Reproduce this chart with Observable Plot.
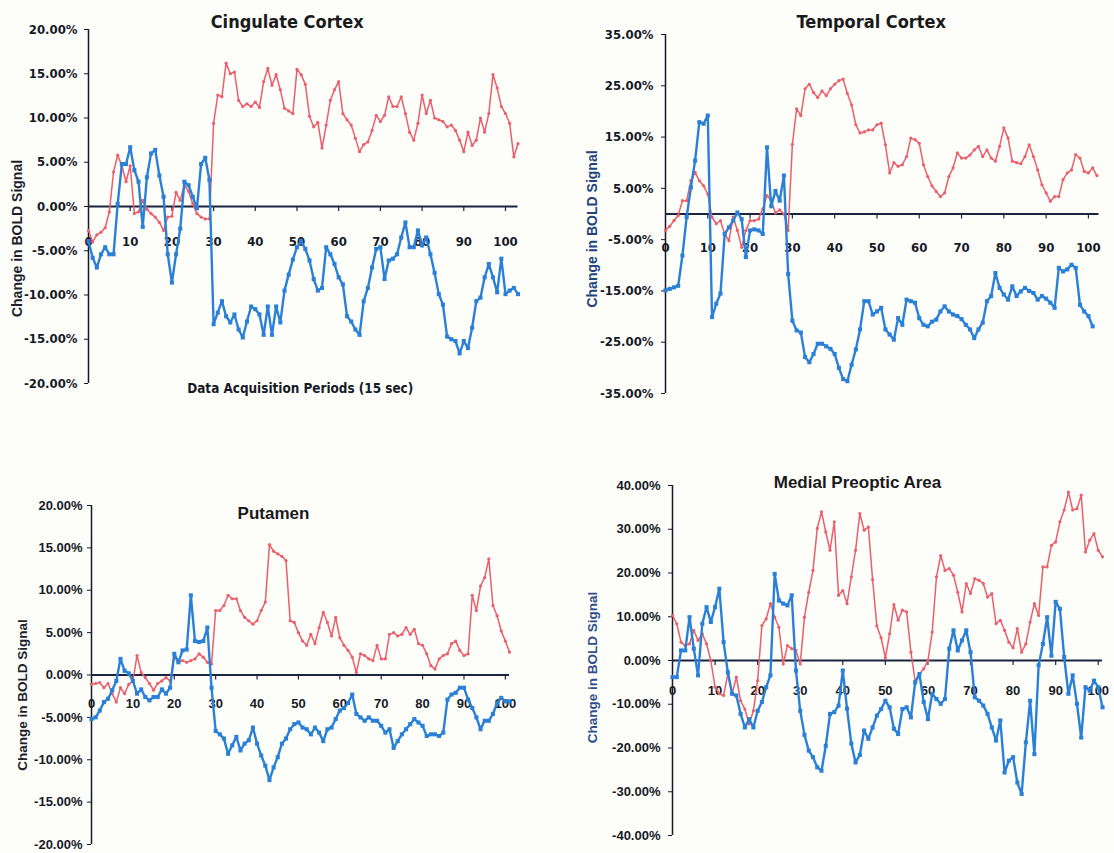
<!DOCTYPE html>
<html><head><meta charset="utf-8">
<script src="https://cdn.jsdelivr.net/npm/d3@7"></script>
<script src="https://cdn.jsdelivr.net/npm/@observablehq/plot@0.6"></script>
<style>
body{margin:0;background:#fdfdfa;}
#root{position:relative;width:1114px;height:853px;overflow:hidden;background:#fdfdfa;}
</style></head><body><div id="root"></div>
<script>
// ---------- data (percent change in BOLD signal, one value per 15-s period) ----------
const xTicks = [0,10,20,30,40,50,60,70,80,90,100];
const ticksCingulate = [-20,-15,-10,-5,0,5,10,15,20];
const ticksTemporal = [-35,-25,-15,-5,5,15,25,35];
const ticksPutamen = [-20,-15,-10,-5,0,5,10,15,20];
const ticksMpa = [-40,-30,-20,-10,0,10,20,30,40];

const cingulateRed = [-2.7,-4.0,-3.2,-2.9,-2.4,-0.6,3.9,5.8,4.6,2.8,
 4.6,-0.8,-0.6,0.7,-0.3,-0.8,-1.2,-1.8,-2.7,-1.2,
 -1.1,1.6,0.7,2.4,1.7,0.3,-0.8,-1.2,-1.4,-1.4,
 9.4,12.6,12.4,16.2,15.0,15.2,12.0,11.3,11.6,11.3,
 11.8,11.2,14.1,15.6,13.7,14.9,13.2,11.1,10.8,10.5,
 15.5,14.9,13.8,10.2,9.0,9.5,6.6,9.2,12.0,13.2,
 14.1,10.5,9.8,9.2,7.7,6.2,7.0,7.3,8.6,10.3,
 9.6,10.3,12.4,11.3,11.3,12.4,10.5,8.4,7.5,9.4,
 12.6,10.5,12.0,10.0,9.8,9.6,9.0,9.2,8.6,7.5,
 6.2,8.4,6.9,7.5,10.0,8.4,10.5,14.9,13.4,11.3,
 10.5,9.4,5.6,7.1];
const cingulateBlue = [-3.9,-5.8,-6.9,-5.4,-4.6,-5.4,-5.4,0.3,4.8,4.8,
 6.7,4.1,2.8,-2.3,3.3,6.0,6.4,3.5,1.1,-5.4,
 -8.6,-5.4,-2.5,2.8,2.4,1.1,-0.2,4.8,5.5,3.0,
 -13.3,-12.0,-10.7,-12.4,-13.1,-12.2,-13.9,-14.8,-13.0,-11.3,
 -11.6,-12.2,-14.5,-11.3,-14.5,-11.3,-13.1,-9.5,-7.7,-6.0,
 -4.6,-3.9,-4.8,-6.1,-8.2,-9.5,-9.2,-4.6,-5.4,-6.5,
 -8.0,-8.8,-12.4,-13.0,-13.9,-14.5,-10.7,-9.2,-6.9,-4.8,
 -4.6,-8.2,-6.1,-5.9,-5.4,-3.5,-1.8,-4.6,-4.6,-2.7,
 -4.4,-3.5,-5.4,-7.5,-9.9,-11.1,-14.7,-15.0,-15.2,-16.6,
 -15.2,-16.0,-13.7,-10.7,-10.3,-8.0,-6.5,-8.0,-9.7,-5.9,
 -9.9,-9.5,-9.2,-9.9];

const temporalRed = [-3.2,-2.4,-1.3,-0.3,2.6,2.6,6.5,8.1,6.5,5.5,
 3.9,-0.6,-1.9,-1.3,-3.9,-5.2,-0.6,-3.2,-6.5,-3.2,
 -1.3,-1.3,-1.0,1.0,3.6,2.6,0.2,0.8,0.0,-3.2,
 13.6,20.5,19.2,24.4,25.3,23.7,22.7,24.0,23.1,24.4,
 25.3,26.0,26.3,23.5,21.3,17.4,15.8,16.0,16.4,16.4,
 17.4,17.7,13.5,8.0,10.0,9.3,9.6,11.2,14.8,14.5,
 13.8,9.6,7.3,5.5,4.4,3.4,4.1,7.3,9.0,11.9,
 10.9,10.9,11.5,12.5,13.2,11.2,12.5,10.9,10.3,13.2,
 16.8,14.8,10.3,10.0,9.8,11.2,13.5,11.2,8.6,5.7,
 4.1,2.5,3.4,3.4,6.7,8.0,8.6,11.6,10.9,8.3,
 8.0,9.0,7.5];
const temporalBlue = [-14.9,-14.6,-14.3,-14.0,-8.1,-0.6,5.2,10.4,17.9,17.6,
 19.2,-20.1,-17.5,-15.5,-3.9,-2.6,-1.3,0.3,-1.0,-8.4,
 -3.2,-3.0,-3.2,-3.9,13.0,1.5,4.5,2.6,7.5,-11.7,
 -20.8,-22.7,-23.1,-27.9,-28.9,-27.3,-25.3,-25.3,-25.8,-26.3,
 -27.3,-30.0,-32.2,-32.6,-29.4,-26.4,-22.5,-17.0,-17.0,-19.6,
 -19.0,-18.3,-22.5,-23.5,-24.5,-20.3,-21.6,-16.7,-17.0,-17.3,
 -20.3,-21.6,-21.9,-21.0,-20.6,-19.0,-18.0,-19.0,-19.6,-19.9,
 -20.5,-21.6,-22.5,-24.2,-22.5,-21.2,-17.0,-16.0,-11.5,-14.4,
 -15.7,-16.7,-14.1,-16.0,-15.1,-14.4,-15.0,-15.4,-16.7,-16.0,
 -16.5,-17.3,-18.3,-10.5,-11.2,-10.8,-9.9,-10.5,-17.7,-19.0,
 -19.9,-21.9];

const putamenRed = [-1.1,-1.0,-0.9,-1.5,-1.0,-2.2,-3.2,-1.5,-2.2,-1.1,
 -0.7,2.3,0.3,-0.3,-1.0,-1.8,-1.0,-0.7,-0.3,-0.7,
 2.1,1.5,1.7,1.5,1.7,1.9,2.5,2.1,1.5,1.3,
 7.6,7.6,8.2,9.4,9.0,9.0,7.6,6.8,6.4,6.0,
 6.4,7.6,8.6,15.4,14.6,14.3,14.0,13.5,6.4,6.2,
 5.0,4.0,3.5,4.8,3.7,5.6,7.4,6.2,4.6,6.8,
 4.4,3.5,2.9,2.1,0.3,2.5,2.3,1.9,1.7,3.5,
 1.9,1.9,4.8,5.0,4.6,4.8,5.6,4.8,5.4,3.7,
 3.5,2.5,1.1,0.7,1.9,2.3,2.5,3.7,4.0,2.9,
 2.3,2.5,9.4,7.6,10.5,11.5,13.7,8.2,7.0,5.2,
 4.0,2.7];
const putamenBlue = [-5.2,-5.0,-4.2,-3.2,-2.8,-1.8,-0.7,1.9,0.5,0.2,
 -0.7,-2.2,-1.7,-2.6,-3.0,-2.6,-2.6,-1.7,-2.2,-1.5,
 2.5,1.5,2.9,3.0,9.4,4.0,3.9,4.0,5.6,-1.5,
 -6.6,-7.0,-7.5,-9.3,-8.3,-7.3,-8.9,-8.1,-7.7,-6.2,
 -8.1,-9.5,-10.7,-12.4,-10.9,-9.7,-8.1,-7.5,-6.4,-5.8,
 -5.6,-6.2,-6.4,-7.0,-6.2,-6.8,-7.8,-6.4,-6.2,-5.2,
 -4.2,-3.9,-3.3,-2.3,-4.6,-5.0,-5.4,-5.0,-5.4,-5.4,
 -6.0,-6.8,-6.4,-8.6,-7.8,-7.0,-6.4,-5.8,-5.2,-5.6,
 -6.0,-7.2,-7.0,-7.0,-7.2,-6.8,-2.9,-2.3,-2.1,-1.5,
 -1.5,-2.9,-3.9,-5.0,-6.4,-5.4,-5.4,-4.6,-3.3,-2.7,
 -3.1,-3.1];

const mpaRed = [10.3,8.4,4.2,3.4,3.8,6.9,4.6,6.1,3.8,0.0,
 -6.1,-7.6,-8.0,-3.1,-7.6,-3.8,-9.2,-11.1,-14.5,-11.5,
 -4.6,8.0,9.5,13.0,9.9,7.6,-0.8,3.4,2.7,2.3,
 -0.8,9.9,15.6,20.6,30.2,34.0,29.4,25.2,31.7,14.9,
 16.0,13.0,19.1,25.2,33.6,29.8,30.5,18.5,7.9,5.2,
 0.6,6.1,12.8,9.2,11.5,11.1,1.9,-4.7,-3.1,-1.9,
 0.0,6.5,19.1,24.0,20.6,21.0,19.5,15.6,11.1,17.6,
 15.3,18.7,18.3,17.6,14.5,15.3,8.4,9.2,6.9,4.2,
 2.9,7.3,1.9,3.8,8.8,13.0,10.3,21.4,21.4,26.3,
 27.1,31.7,34.4,38.5,34.4,34.7,37.8,24.8,27.5,29.0,
 25.2,23.7];
const mpaBlue = [-3.8,-3.8,2.3,2.3,9.9,2.7,-3.4,8.4,12.2,8.8,
 12.2,16.4,4.2,-2.7,-7.6,-8.0,-12.2,-15.3,-13.4,-15.3,
 -11.5,-9.5,-6.1,-3.4,19.8,13.7,13.0,12.6,14.9,-2.3,
 -11.5,-17.0,-20.6,-22.1,-24.4,-25.2,-19.5,-12.2,-11.8,-10.3,
 -2.3,-11.0,-19.0,-23.3,-21.6,-16.0,-17.9,-15.3,-12.6,-11.1,
 -9.2,-10.7,-15.6,-16.8,-11.1,-10.7,-13.0,-5.0,-3.1,-9.5,
 -13.4,-7.6,-8.8,-9.9,-8.8,2.7,6.9,2.3,4.6,6.9,
 1.9,-8.4,-9.2,-10.3,-12.2,-15.3,-18.3,-13.7,-25.6,-22.9,
 -22.1,-27.9,-30.5,-18.7,-9.2,-21.4,-1.1,3.8,9.9,1.1,
 13.4,11.8,0.8,-7.6,-3.4,-9.9,-17.6,-6.1,-6.9,-4.6,
 -6.1,-10.7];

// ---------- drawing ----------
const RED = "#ea5f6b", BLUE = "#2a80d6", INK = "#161a26";
const NARROW = "'Liberation Sans Narrow','DejaVu Sans Condensed','Liberation Sans',sans-serif";
const SANS = "'Liberation Sans',Arial,sans-serif";
const fmt = d => d.toFixed(2) + "%";
const toRows = arr => arr.map((v, i) => ({x: i, v}));

function panel(o) {
  const red = toRows(o.red), blue = toRows(o.blue);
  const marks = [
    Plot.axisY({ticks: o.yTicks, tickFormat: fmt, tickSize: 4, tickPadding: o.tickPad,
      label: null, stroke: INK, fill: INK, fontSize: o.tickFont, fontWeight: "bold", fontFamily: o.tickFamily}),
    Plot.ruleX([0], {stroke: INK, strokeWidth: 1.5}),
    Plot.ruleY([0], {stroke: "#1b2540", strokeWidth: 2}),
    Plot.ruleX(xTicks.slice(1), {x: d => d, y1: 0, y2: 0, insetBottom: -5, stroke: "#1b2540", strokeWidth: 1.2}),
    Plot.text(xTicks, {x: d => d, y: 0, dy: o.xLabDy, text: d => String(d), fill: INK,
      fontSize: o.tickFont, fontWeight: "bold", fontFamily: o.tickFamily}),
    Plot.line(red, {x: "x", y: "v", stroke: RED, strokeWidth: 1.5}),
    Plot.dot(red, {x: "x", y: "v", r: 1.6, fill: RED, stroke: "none"}),
    Plot.line(blue, {x: "x", y: "v", stroke: BLUE, strokeWidth: 2.4}),
    Plot.dot(blue, {x: "x", y: "v", r: 2.3, symbol: "square", fill: BLUE, stroke: "none"}),
    Plot.text([o.title], {frameAnchor: "top", dx: o.titleDx, dy: o.titleDy, fill: "#1a1a1a",
      fontSize: o.titleFont, fontWeight: "bold", fontFamily: o.titleFamily, lineAnchor: "middle", textAnchor: "middle"}),
    Plot.text([o.ylabel], {frameAnchor: "left", rotate: -90, dx: o.ylabDx, dy: o.ylabDy, fill: o.ylabColor,
      fontSize: o.ylabFont, fontWeight: "bold", fontFamily: SANS, lineAnchor: "middle", textAnchor: "middle"})
  ];
  if (o.xlabel) marks.push(Plot.text([o.xlabel], {frameAnchor: "bottom", dx: o.xlabDx, dy: o.xlabDy,
    fill: INK, fontSize: 13.4, fontWeight: "bold", fontFamily: NARROW, lineAnchor: "middle", textAnchor: "middle"}));
  const svg = Plot.plot({
    width: o.w, height: o.h,
    marginLeft: o.ml, marginRight: o.mr, marginTop: o.mt, marginBottom: o.mb,
    x: {domain: [0, o.xMax], axis: null},
    y: {domain: [o.yTicks[0], o.yTicks[o.yTicks.length - 1]], axis: null},
    style: {background: "transparent", overflow: "visible", fontFamily: SANS},
    marks
  });
  svg.style.position = "absolute";
  svg.style.left = o.left + "px";
  svg.style.top = o.top + "px";
  document.getElementById("root").appendChild(svg);
}

panel({left: 0, top: 0, w: 530, h: 400, ml: 88, mr: 12.5, mt: 29, mb: 17, xMax: 103,
  red: cingulateRed, blue: cingulateBlue, yTicks: ticksCingulate,
  tickPad: 7, tickFont: 13, tickFamily: NARROW, xLabDy: 35,
  title: "Cingulate Cortex", titleDx: -16, titleDy: -7, titleFont: 18, titleFamily: NARROW,
  ylabel: "Change in BOLD Signal", ylabDx: -71, ylabDy: 32, ylabFont: 14, ylabColor: "#1c1e2c",
  xlabel: "Data Acquisition Periods (15 sec)", xlabDx: -3, xlabDy: 5});

panel({left: 580, top: 0, w: 534, h: 410, ml: 85, mr: 15.5, mt: 34, mb: 17, xMax: 102.5,
  red: temporalRed, blue: temporalBlue, yTicks: ticksTemporal,
  tickPad: 8, tickFont: 13, tickFamily: NARROW, xLabDy: 34,
  title: "Temporal Cortex", titleDx: -11, titleDy: -12, titleFont: 18, titleFamily: NARROW,
  ylabel: "Change in BOLD Signal", ylabDx: -73, ylabDy: 15, ylabFont: 14, ylabColor: "#23437c"});

panel({left: 0, top: 480, w: 530, h: 373, ml: 91, mr: 21, mt: 25, mb: 9, xMax: 101,
  red: putamenRed, blue: putamenBlue, yTicks: ticksPutamen,
  tickPad: 5, tickFont: 13, tickFamily: SANS, xLabDy: 29,
  title: "Putamen", titleDx: -27, titleDy: 8, titleFont: 17, titleFamily: SANS,
  ylabel: "Change in BOLD Signal", ylabDx: -69, ylabDy: 20, ylabFont: 13.5, ylabColor: "#1c1e2c"});

panel({left: 580, top: 460, w: 534, h: 393, ml: 92, mr: 12, mt: 25, mb: 18, xMax: 101,
  red: mpaRed, blue: mpaBlue, yTicks: ticksMpa,
  tickPad: 8, tickFont: 13, tickFamily: SANS, xLabDy: 30,
  title: "Medial Preoptic Area", titleDx: -30, titleDy: -3, titleFont: 17, titleFamily: SANS,
  ylabel: "Change in BOLD Signal", ylabDx: -80, ylabDy: 7, ylabFont: 13.5, ylabColor: "#2f4f8c"});
</script></body></html>
